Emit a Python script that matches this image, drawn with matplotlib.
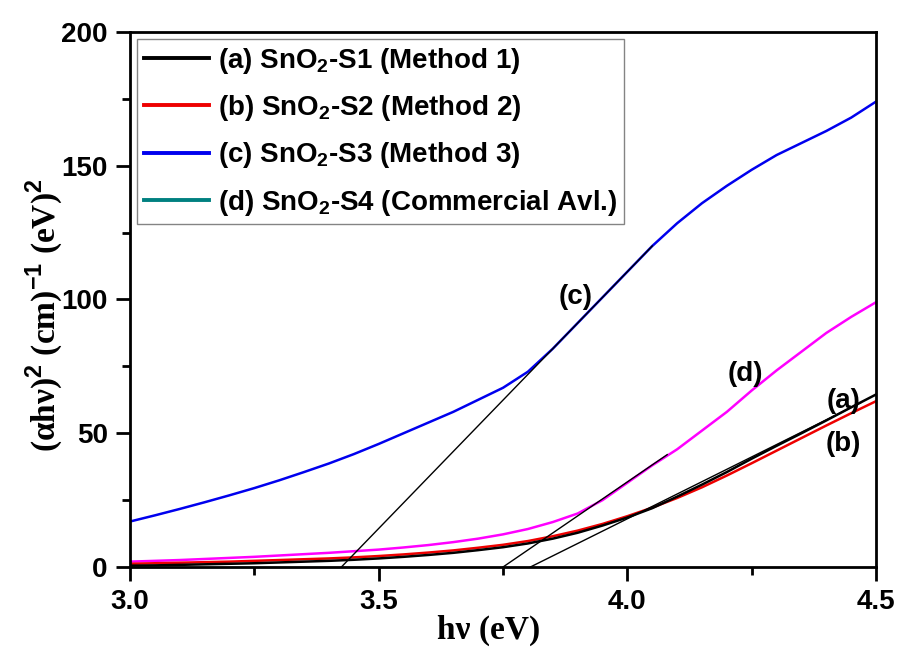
import matplotlib
matplotlib.use("Agg")
import matplotlib.pyplot as plt
import numpy as np

# photon energy grid (eV) and (alpha h nu)^2 values
hv = [3.0, 3.05, 3.1, 3.15, 3.2, 3.25, 3.3, 3.35, 3.4, 3.45, 3.5, 3.55, 3.6, 3.65, 3.7, 3.75,
      3.8, 3.85, 3.9, 3.95, 4.0, 4.05, 4.1, 4.15, 4.2, 4.25, 4.3, 4.35, 4.4, 4.45, 4.5]
s1 = [0.5, 0.6, 0.8, 1.0, 1.2, 1.4, 1.7, 2.0, 2.3, 2.7, 3.2, 3.8, 4.5, 5.3, 6.3, 7.4,
      8.8, 10.6, 12.8, 15.5, 18.5, 22.0, 26.3, 30.8, 35.5, 40.5, 45.3, 50.0, 54.8, 59.7, 64.5]
s2 = [1.2, 1.4, 1.6, 1.8, 2.0, 2.3, 2.6, 2.9, 3.2, 3.6, 4.1, 4.7, 5.4, 6.2, 7.2, 8.3,
      9.7, 11.5, 13.6, 16.1, 19.0, 22.2, 25.8, 29.8, 34.2, 38.8, 43.5, 48.2, 52.9, 57.5, 62.0]
s3 = [17.0, 19.3, 21.7, 24.2, 26.8, 29.5, 32.4, 35.5, 38.7, 42.2, 46.0, 50.0, 54.0, 58.0, 62.5, 67.0,
      73.0, 81.6, 91.2, 100.8, 110.4, 120.0, 128.5, 136.0, 142.5, 148.5, 154.0, 158.5, 163.0, 168.0, 174.0]
s4 = [2.0, 2.3, 2.6, 3.0, 3.4, 3.8, 4.3, 4.8, 5.3, 5.9, 6.5, 7.3, 8.2, 9.3, 10.6, 12.2,
      14.2, 16.8, 20.0, 25.0, 31.5, 38.0, 44.0, 51.0, 58.0, 66.0, 73.5, 80.5, 87.5, 93.5, 99.0]

# tangent (Tauc) extrapolation lines: (x0, y0, x1, y1)
fit_c = (3.425, 0, 4.05, 120)
fit_d = (3.75, 0, 4.08, 42)
fit_ab = (3.805, 0, 4.47, 61.5)

labels = [r"(a) SnO$_\mathbf{2}$-S1 (Method 1)",
          r"(b) SnO$_\mathbf{2}$-S2 (Method 2)",
          r"(c) SnO$_\mathbf{2}$-S3 (Method 3)",
          r"(d) SnO$_\mathbf{2}$-S4 (Commercial Avl.)"]

plt.rcParams['font.family'] = ['Liberation Sans', 'DejaVu Sans']
plt.rcParams['mathtext.fontset'] = 'custom'
plt.rcParams['mathtext.rm'] = 'Liberation Sans:bold'
plt.rcParams['mathtext.bf'] = 'Liberation Sans:bold'

fig = plt.figure(figsize=(9.06, 6.5), dpi=100)
ax = fig.add_axes([0.1435, 0.1277, 0.8235, 0.8231])

ax.plot(hv, s3, color='#0000ee', lw=1.8, zorder=2)
ax.plot(hv, s4, color='#ff00ff', lw=1.8, zorder=2)
ax.plot(hv, s2, color='#ee0000', lw=1.8, zorder=2)
ax.plot(hv, s1, color='black', lw=1.8, zorder=3)

for f in (fit_c, fit_d, fit_ab):
    ax.plot([f[0], f[2]], [f[1], f[3]], color='black', lw=1.0, zorder=4)

# legend handles (legend colour for (d) differs from the curve in the original)
leg_colors = ['black', '#ee0000', '#0000ee', '#008080']
handles = [plt.Line2D([], [], color=c, lw=2.8) for c in leg_colors]
leg = ax.legend(handles, labels, loc='upper left', bbox_to_anchor=(0.0, 1.0),
                prop={'family': 'Liberation Sans', 'weight': 'bold', 'size': 20},
                frameon=True, fancybox=False, edgecolor='#666666',
                handlelength=2.35, handletextpad=0.3, borderpad=0.25,
                labelspacing=0.62, borderaxespad=0.25)
leg.get_frame().set_linewidth(1.0)

ann = dict(fontsize=20, fontweight='bold', ha='center', va='center')
ax.text(3.895, 101, "(c)", **ann)
ax.text(4.237, 72, "(d)", **ann)
ax.text(4.434, 62, "(a)", **ann)
ax.text(4.434, 46, "(b)", **ann)

ax.set_xlim(3.0, 4.5)
ax.set_ylim(0, 200)
ax.set_xticks([3.0, 3.5, 4.0, 4.5])
ax.set_xticks([3.25, 3.75, 4.25], minor=True)
ax.set_yticks([0, 50, 100, 150, 200])
ax.set_yticks([25, 75, 125, 175], minor=True)
ax.set_xticklabels(["3.0", "3.5", "4.0", "4.5"])

for s in ax.spines.values():
    s.set_linewidth(2.0)
ax.tick_params(which='major', direction='out', length=10, width=2, labelsize=20, pad=6)
ax.tick_params(which='minor', direction='out', length=6, width=2)
for t in ax.get_xticklabels() + ax.get_yticklabels():
    t.set_fontweight('bold')

ax.set_xlabel("h\u03bd (eV)", family='Liberation Serif', weight='bold', size=24, labelpad=0)
ax.set_ylabel("(\u03b1h\u03bd)$^{2}$ (cm)$^{-1}$ (eV)$^{2}$", family='Liberation Serif',
              weight='bold', size=24, labelpad=-3)
ax.xaxis.label.set_x(0.48)
ax.yaxis.label.set_y(0.47)

fig.savefig("out.png", dpi=100)
